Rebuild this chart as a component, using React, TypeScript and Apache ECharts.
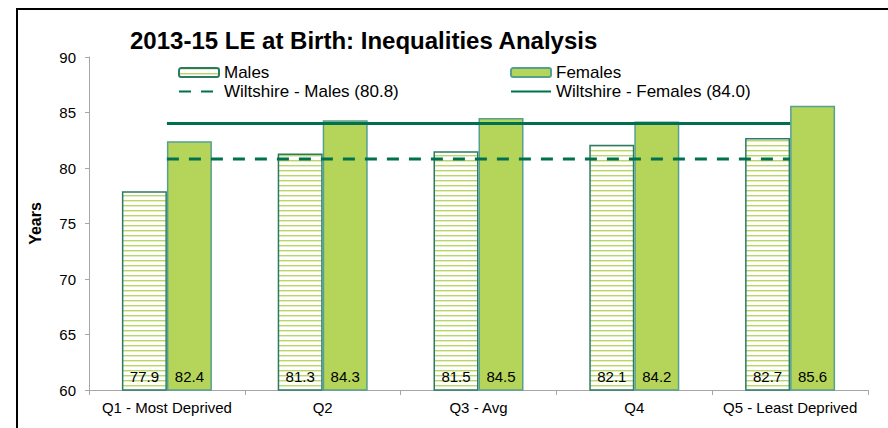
import React, { useEffect, useRef } from "react";
import * as echarts from "echarts";

const categories = ["Q1 - Most Deprived", "Q2", "Q3 - Avg", "Q4", "Q5 - Least Deprived"];
const males = [77.9, 81.3, 81.5, 82.1, 82.7];
const females = [82.4, 84.3, 84.5, 84.2, 85.6];
const wiltshireMales = [80.8, 80.8, 80.8, 80.8, 80.8];
const wiltshireFemales = [84.0, 84.0, 84.0, 84.0, 84.0];
const seriesNames = ["Males", "Females", "Wiltshire - Males (80.8)", "Wiltshire - Females (84.0)"];

const FONT = "'Liberation Sans', Arial, sans-serif";

function makeStripe(): HTMLCanvasElement {
  const c = document.createElement("canvas");
  c.width = 4;
  c.height = 5;
  const ctx = c.getContext("2d")!;
  ctx.fillStyle = "#ffffff";
  ctx.fillRect(0, 0, 4, 5);
  ctx.fillStyle = "#B8D768";
  ctx.fillRect(0, 0, 4, 1);
  ctx.fillStyle = "#E2EEC0";
  ctx.fillRect(0, 1, 4, 1);
  return c;
}

export default function App() {
  const ref = useRef<HTMLDivElement>(null);
  useEffect(() => {
    if (!ref.current) return;
    const chart = echarts.init(ref.current, null, { renderer: "svg" });
    const stripe = { image: makeStripe(), repeat: "repeat" } as any;
    const lineColor = "#00704E";
    const legendBase = {
      orient: "horizontal",
      itemWidth: 40,
      itemHeight: 9,
      itemGap: 5,
      textStyle: { fontSize: 17, color: "#000", fontFamily: FONT },
      selectedMode: false,
    };
    chart.setOption({
      animation: false,
      backgroundColor: "#ffffff",
      textStyle: { fontFamily: FONT },
      title: {
        text: "2013-15 LE at Birth: Inequalities Analysis",
        left: 130,
        top: 28,
        padding: 0,
        textStyle: { fontSize: 24, fontWeight: "bold", color: "#000", fontFamily: FONT },
      },
      graphic: [
        {
          type: "rect",
          shape: { x: 17, y: 9, width: 900, height: 500 },
          style: { fill: "none", stroke: "#000", lineWidth: 2 },
          silent: true,
          z: 100,
        },
      ],
      legend: [
        { ...legendBase, data: [seriesNames[0]], left: 173, top: 64, padding: [0, 5] },
        {
          ...legendBase,
          data: [{ name: seriesNames[2], itemStyle: { opacity: 0 } }],
          left: 173,
          top: 83,
          padding: [0, 5],
        },
        { ...legendBase, data: [seriesNames[1]], left: 505, top: 64, padding: [0, 5] },
        {
          ...legendBase,
          data: [{ name: seriesNames[3], itemStyle: { opacity: 0 } }],
          left: 505,
          top: 83,
          padding: [0, 5],
        },
      ],
      grid: { left: 89, right: 20, top: 57, bottom: 38, containLabel: false },
      xAxis: {
        type: "category",
        data: categories,
        axisLine: { lineStyle: { color: "#A6A6A6", width: 1 } },
        axisTick: { show: true, alignWithLabel: false, length: 5, lineStyle: { color: "#A6A6A6" } },
        axisLabel: { interval: 0, fontSize: 15, color: "#000", margin: 10, fontFamily: FONT },
        splitLine: { show: false },
      },
      yAxis: {
        type: "value",
        min: 60,
        max: 90,
        interval: 5,
        name: "Years",
        nameLocation: "middle",
        nameGap: 46,
        nameTextStyle: { fontSize: 16, fontWeight: "bold", color: "#000", fontFamily: FONT },
        axisLine: { show: true, lineStyle: { color: "#A6A6A6", width: 1 } },
        axisTick: { show: true, length: 4, lineStyle: { color: "#A6A6A6" } },
        axisLabel: { fontSize: 15, color: "#000", margin: 13, fontFamily: FONT },
        splitLine: { show: false },
      },
      series: [
        {
          name: seriesNames[0],
          type: "bar",
          data: males,
          barWidth: 45,
          barGap: "0%",
          itemStyle: { color: stripe, borderColor: "#2C7A63", borderWidth: 1.5 },
          label: {
            show: true,
            position: "insideBottom",
            distance: 7,
            fontSize: 15,
            color: "#000",
            fontFamily: FONT,
            formatter: (p: any) => p.value.toFixed(1),
          },
        },
        {
          name: seriesNames[1],
          type: "bar",
          data: females,
          barWidth: 45,
          barGap: "0%",
          itemStyle: { color: "#B5D55A", borderColor: "#55A090", borderWidth: 1.5 },
          label: {
            show: true,
            position: "insideBottom",
            distance: 7,
            fontSize: 15,
            color: "#000",
            fontFamily: FONT,
            formatter: (p: any) => p.value.toFixed(1),
          },
        },
        {
          name: seriesNames[2],
          type: "line",
          data: wiltshireMales,
          symbol: "none",
          showSymbol: false,
          lineStyle: { color: lineColor, width: 3, type: [12, 10] },
          itemStyle: { color: lineColor },
          z: 5,
        },
        {
          name: seriesNames[3],
          type: "line",
          data: wiltshireFemales,
          symbol: "none",
          showSymbol: false,
          lineStyle: { color: lineColor, width: 3, type: "solid" },
          itemStyle: { color: lineColor },
          z: 5,
        },
      ],
    });
    return () => chart.dispose();
  }, []);
  return (
    <div
      ref={ref}
      style={{ position: "fixed", left: 0, top: 0, width: 888, height: 428 }}
    />
  );
}
